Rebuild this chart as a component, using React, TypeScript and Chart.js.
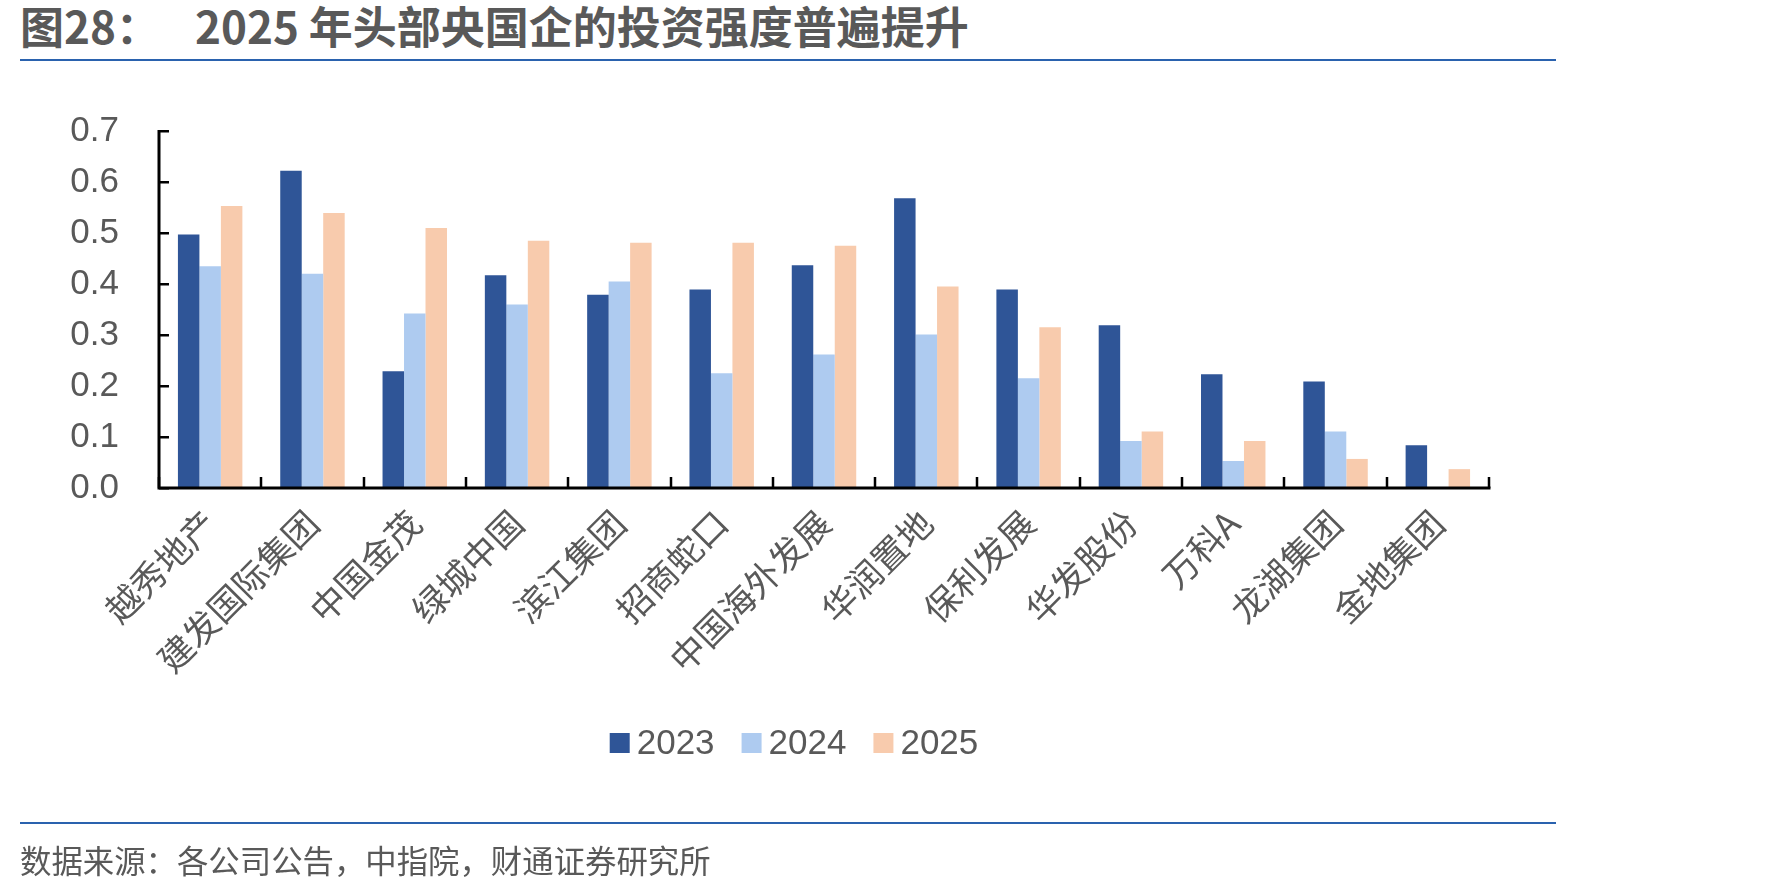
import React, { useEffect, useRef } from "react";
import { Chart, registerables } from "chart.js";

Chart.register(...registerables);

const CATEGORIES = [
  "越秀地产",
  "建发国际集团",
  "中国金茂",
  "绿城中国",
  "滨江集团",
  "招商蛇口",
  "中国海外发展",
  "华润置地",
  "保利发展",
  "华发股份",
  "万科A",
  "龙湖集团",
  "金地集团",
];
const SERIES_NAMES = ["2023", "2024", "2025"];
const VALUES_2023 = [0.497, 0.622, 0.229, 0.417, 0.379, 0.389, 0.437, 0.568, 0.389, 0.319, 0.223, 0.209, 0.084];
const VALUES_2024 = [0.435, 0.42, 0.342, 0.36, 0.405, 0.225, 0.262, 0.301, 0.215, 0.092, 0.053, 0.111, null];
const VALUES_2025 = [0.553, 0.539, 0.51, 0.485, 0.481, 0.481, 0.475, 0.395, 0.315, 0.111, 0.092, 0.057, 0.037];
const SERIES_COLORS = ["#2F5597", "#AECBF0", "#F8CBAD"];
const Y_MIN = 0;
const Y_MAX = 0.7;
const Y_STEP = 0.1;

const TITLE_PREFIX = "图28：";
const TITLE_TEXT = "2025 年头部央国企的投资强度普遍提升";
const SOURCE_TEXT = "数据来源：各公司公告，中指院，财通证券研究所";

const TEXT_COLOR = "#595959";
const RULE_COLOR = "#2A62AE";

const axesPlugin = {
  id: "customAxes",
  afterDatasetsDraw(chart: any) {
    const { ctx, chartArea, scales } = chart;
    const { left, right, bottom } = chartArea;
    const y = scales.y;
    const top = y.getPixelForValue(Y_MAX);
    ctx.save();
    ctx.strokeStyle = "#000";
    ctx.lineWidth = 3;
    ctx.lineCap = "butt";
    ctx.beginPath();
    ctx.moveTo(left, top - 1);
    ctx.lineTo(left, bottom);
    ctx.moveTo(left - 1.5, bottom);
    ctx.lineTo(right + 1.5, bottom);
    ctx.stroke();
    ctx.lineWidth = 2.5;
    ctx.beginPath();
    for (let v = Y_MIN; v <= Y_MAX + 1e-9; v += Y_STEP) {
      const py = Math.round(y.getPixelForValue(v)) + 0.25;
      ctx.moveTo(left, py);
      ctx.lineTo(left + 10, py);
    }
    const n = CATEGORIES.length;
    for (let i = 0; i <= n; i++) {
      const px = Math.round(left + ((right - left) * i) / n);
      ctx.moveTo(px, bottom);
      ctx.lineTo(px, bottom - 11);
    }
    ctx.stroke();
    ctx.restore();
  },
};

const legendPlugin = {
  id: "customLegend",
  afterDraw(chart: any) {
    const { ctx } = chart;
    const centerX = 794;
    const centerY = 743;
    const box = 20;
    const gap = 7;
    const itemGap = 27;
    ctx.save();
    ctx.font = '35px "Liberation Sans", Arial, sans-serif';
    ctx.textBaseline = "middle";
    ctx.textAlign = "left";
    const items = chart.data.datasets.map((ds: any) => ({
      label: ds.label,
      color: ds.backgroundColor,
      w: ctx.measureText(ds.label).width,
    }));
    const total =
      items.reduce((s: number, it: any) => s + box + gap + it.w, 0) + itemGap * (items.length - 1);
    let x = centerX - total / 2;
    items.forEach((it: any) => {
      ctx.fillStyle = it.color;
      ctx.fillRect(x, centerY - box / 2, box, box);
      x += box + gap;
      ctx.fillStyle = TEXT_COLOR;
      ctx.fillText(it.label, x, centerY + 1);
      x += it.w + itemGap;
    });
    ctx.restore();
  },
};

function BarChart() {
  const ref = useRef<HTMLCanvasElement | null>(null);
  useEffect(() => {
    if (!ref.current) return;
    const chart = new Chart(ref.current, {
      type: "bar",
      data: {
        labels: CATEGORIES,
        datasets: [
          { label: SERIES_NAMES[0], data: VALUES_2023, backgroundColor: SERIES_COLORS[0] },
          { label: SERIES_NAMES[1], data: VALUES_2024, backgroundColor: SERIES_COLORS[1] },
          { label: SERIES_NAMES[2], data: VALUES_2025, backgroundColor: SERIES_COLORS[2] },
        ],
      },
      options: {
        responsive: false,
        animation: false,
        events: [],
        datasets: {
          bar: {
            categoryPercentage: 0.63,
            barPercentage: 1,
            borderWidth: 0,
          },
        },
        layout: {
          padding: { left: 20, top: 131, right: 282, bottom: 103 },
        },
        plugins: {
          legend: { display: false },
          title: { display: false },
          tooltip: { enabled: false },
        },
        scales: {
          x: {
            type: "category",
            grid: { display: false, drawTicks: false },
            border: { display: false },
            ticks: {
              autoSkip: false,
              maxRotation: 45,
              minRotation: 45,
              padding: 14,
              color: TEXT_COLOR,
              font: { family: '"Noto Sans CJK SC", sans-serif', size: 35 },
            },
            afterFit: (s: any) => {
              s.height = 300;
            },
          },
          y: {
            min: Y_MIN,
            max: Y_MAX,
            grid: { display: false, drawTicks: false },
            border: { display: false },
            ticks: {
              stepSize: Y_STEP,
              padding: 40,
              color: TEXT_COLOR,
              font: { family: '"Liberation Sans", Arial, sans-serif', size: 35 },
              callback: (v: any) => Number(v).toFixed(1),
            },
            afterFit: (s: any) => {
              s.width = 139;
            },
          },
        },
      },
      plugins: [axesPlugin, legendPlugin],
    });
    return () => chart.destroy();
  }, []);
  return (
    <canvas
      ref={ref}
      width={1771}
      height={891}
      style={{ position: "absolute", left: 0, top: 0, width: 1771, height: 891 }}
    />
  );
}

export default function App() {
  const titleFont = '"Liberation Sans Narrow", "Noto Sans CJK SC", sans-serif';
  const titleStyle: React.CSSProperties = {
    position: "absolute",
    top: 2,
    height: 46,
    lineHeight: "46px",
    fontFamily: titleFont,
    fontWeight: 700,
    fontSize: 44,
    color: TEXT_COLOR,
    whiteSpace: "nowrap",
  };
  return (
    <div
      style={{
        position: "absolute",
        left: 0,
        top: 0,
        width: 1771,
        height: 891,
        background: "#fff",
        overflow: "hidden",
      }}
    >
      <div style={{ ...titleStyle, left: 20 }}>{TITLE_PREFIX}</div>
      <div style={{ ...titleStyle, left: 195 }}>{TITLE_TEXT}</div>
      <div
        style={{
          position: "absolute",
          left: 20,
          top: 59,
          width: 1536,
          height: 2,
          background: RULE_COLOR,
        }}
      />
      <BarChart />
      <div
        style={{
          position: "absolute",
          left: 20,
          top: 822,
          width: 1536,
          height: 2,
          background: RULE_COLOR,
        }}
      />
      <div
        style={{
          position: "absolute",
          left: 20,
          top: 843,
          height: 34,
          lineHeight: "34px",
          fontFamily: '"Noto Sans CJK SC", sans-serif',
          fontSize: 31.4,
          color: TEXT_COLOR,
          whiteSpace: "nowrap",
        }}
      >
        {SOURCE_TEXT}
      </div>
    </div>
  );
}
